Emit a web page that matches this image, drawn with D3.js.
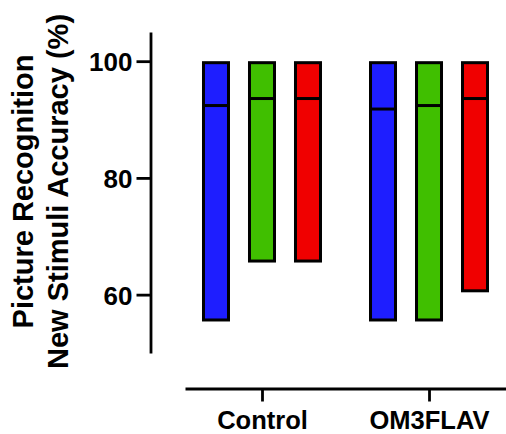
<!DOCTYPE html>
<html>
<head>
<meta charset="utf-8">
<script src="https://cdn.jsdelivr.net/npm/d3@7"></script>
<style>
  body { margin: 0; background: #fff; }
  text { font-family: "Liberation Sans", Arial, sans-serif; font-weight: bold; fill: #000; }
</style>
</head>
<body>
<div id="chart"></div>
<script>
const groups = ["Control", "OM3FLAV"];
const series = ["s1", "s2", "s3"];
const colors = ["#1e1eff", "#40bf00", "#f00000"];
// floating bars: min, max and median line, one array per group
const minVals = {Control: [55.4, 65.5, 65.5], OM3FLAV: [55.4, 55.4, 60.4]};
const maxVals = {Control: [100, 100, 100], OM3FLAV: [100, 100, 100]};
const medVals = {Control: [92.4, 93.6, 93.6], OM3FLAV: [91.8, 92.4, 93.6]};
const yTicks = [60, 80, 100];
const yTitle = ["Picture Recognition", "New Stimuli Accuracy (%)"];

const WIDTH = 506, HEIGHT = 434;
const SW = 3; // stroke width

const svg = d3.select("#chart")
              .append("svg")
                .attr("width", WIDTH)
                .attr("height", HEIGHT);

const y = d3.scaleLinear().domain([50, 105]).range([353, 32]);
const x = d3.scalePoint().domain(groups).range([185, 506]).padding(0.461);
const xs = d3.scalePoint().domain(series).range([-46, 46]);
const barW = 28;

// y axis
const gy = svg.append("g")
    .attr("transform", "translate(150.5,0)")
    .call(d3.axisLeft(y).tickValues(yTicks).tickSize(14).tickSizeOuter(0).tickPadding(4));
gy.selectAll("path, line").attr("stroke", "#000").attr("stroke-width", 2.8);
gy.selectAll("text").style("font-size", "26px").attr("dy", "0.36em");

// x axis
const gx = svg.append("g")
    .attr("transform", "translate(0,388.5)")
    .call(d3.axisBottom(x).tickSize(13).tickSizeOuter(0).tickPadding(9));
gx.selectAll("path, line").attr("stroke", "#000").attr("stroke-width", 2.8);
gx.selectAll("text").style("font-size", "25.5px");

// bars
const rows = [];
groups.forEach(g => series.forEach((s, i) => rows.push({
    g, s, color: colors[i], lo: minVals[g][i], hi: maxVals[g][i], med: medVals[g][i]
})));

const bars = svg.selectAll("g.bar")
    .data(rows)
    .join("g")
      .attr("class", "bar")
      .attr("transform", d => `translate(${x(d.g) + xs(d.s)},0)`);

bars.append("rect")
    .attr("x", -barW / 2 + SW / 2)
    .attr("width", barW - SW)
    .attr("y", d => y(d.hi) + SW / 2)
    .attr("height", d => y(d.lo) - y(d.hi) - SW)
    .attr("fill", d => d.color)
    .attr("stroke", "#000")
    .attr("stroke-width", SW);

bars.append("line")
    .attr("x1", -barW / 2 + SW / 2)
    .attr("x2", barW / 2 - SW / 2)
    .attr("y1", d => y(d.med))
    .attr("y2", d => y(d.med))
    .attr("stroke", "#000")
    .attr("stroke-width", SW);

// y title
svg.selectAll("text.ytitle")
    .data(yTitle)
    .join("text")
      .attr("class", "ytitle")
      .attr("transform", (d, i) => `translate(${33 + i * 35},191.5) rotate(-90)`)
      .attr("text-anchor", "middle")
      .style("font-size", "29px")
      .text(d => d);
</script>
</body>
</html>
